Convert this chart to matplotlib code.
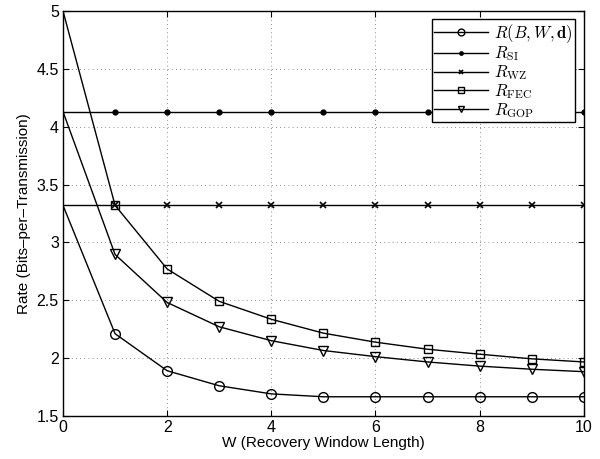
import matplotlib
matplotlib.use("Agg")
import matplotlib.pyplot as plt

plt.rcParams['font.family'] = ['Liberation Sans', 'DejaVu Sans']
plt.rcParams['mathtext.fontset'] = 'cm'

# window length W
w = [0, 1, 2, 3, 4, 5, 6, 7, 8, 9, 10]

# rates
r_bwd = [3.32, 2.21, 1.89, 1.76, 1.69, 1.665, 1.665, 1.665, 1.665, 1.665, 1.665]
r_si = [4.13] * 11
r_wz = [3.32] * 11
r_fec = [5.0, 3.32, 2.77, 2.49, 2.335, 2.215, 2.137, 2.076, 2.033, 1.993, 1.966]
r_gop = [4.13, 2.895, 2.48, 2.27, 2.15, 2.065, 2.012, 1.966, 1.93, 1.903, 1.882]

labels = [r'$R(B,W,\mathbf{d})$', r'$R_{\mathrm{SI}}$', r'$R_{\mathrm{WZ}}$',
          r'$R_{\mathrm{FEC}}$', r'$R_{\mathrm{GOP}}$']

fig = plt.figure(figsize=(6, 4.59), dpi=100)
ax = fig.add_axes([0.105, 0.094, 0.868, 0.882])

mk = list(range(1, 11))
ax.plot(w, r_bwd, color='k', lw=1, marker='o', ms=7, mfc='none', mew=1, markevery=mk, label=labels[0])
ax.plot(w, r_si, color='k', lw=1, marker='.', ms=7, markevery=mk, label=labels[1])
ax.plot(w, r_wz, color='k', lw=1, marker='x', ms=4, mew=1.2, markevery=mk, label=labels[2])
ax.plot(w, r_fec, color='k', lw=1, marker='s', ms=6, mfc='none', mew=1, markevery=mk, label=labels[3])
ax.plot(w, r_gop, color='k', lw=1, marker='v', ms=7, mfc='none', mew=1, markevery=mk, label=labels[4])

ax.set_xlim(0, 10)
ax.set_ylim(1.5, 5)
ax.set_xticks([0, 2, 4, 6, 8, 10])
ax.set_yticks([1.5, 2, 2.5, 3, 3.5, 4, 4.5, 5])
ax.set_yticklabels(['1.5', '2', '2.5', '3', '3.5', '4', '4.5', '5'])
ax.tick_params(direction='in', top=True, right=True, labelsize=11.5, length=4, pad=3)
ax.grid(True, linestyle=(0, (1, 4)), color='k', lw=0.6, alpha=0.6)
for s in ax.spines.values():
    s.set_linewidth(1)

ax.set_xlabel('W (Recovery Window Length)', fontsize=11, labelpad=1)
ax.set_ylabel('Rate (Bits\u2013per\u2013Transmission)', fontsize=11, labelpad=4)

leg = ax.legend(loc='upper right', fontsize=12, handlelength=3.2, borderpad=0.15,
                labelspacing=0.0, handletextpad=0.4, fancybox=False, framealpha=1,
                edgecolor='k', borderaxespad=0.5, markerscale=0.7)
leg.get_frame().set_linewidth(1)

fig.savefig('out.png', dpi=100)
